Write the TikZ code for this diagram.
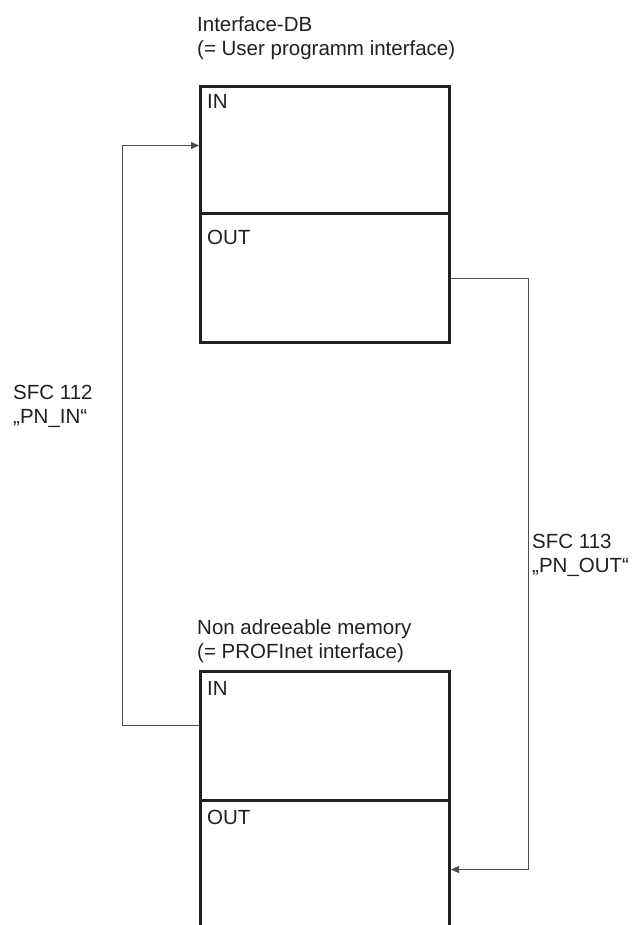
\documentclass[tikz,border=0pt]{standalone}
\usepackage{fontspec}
\setmainfont{Liberation Sans}
\usetikzlibrary{arrows.meta}
\definecolor{boxc}{HTML}{231F20}
\definecolor{linec}{HTML}{4D4D4D}
\begin{document}
\begin{tikzpicture}[x=1pt,y=-1pt,
  part/.style={draw=boxc,line width=3pt,anchor=north west,inner sep=0pt,minimum width=249pt},
  lbl/.style={anchor=base west,inner sep=0pt,font=\fontsize{20.5}{24}\selectfont,text=boxc,align=left},
  conn/.style={draw=linec,line width=1pt,-{Triangle[length=8pt,width=7pt]}}]
\useasboundingbox (0,0) rectangle (637,925);
\clip (0,0) rectangle (637,925);
% top block
\node[part,minimum height=127pt] (tin) at (199,85) {};
\node[part,minimum height=129pt] (tout) at (199,212) {};
% bottom block
\node[part,minimum height=129pt] (bin) at (199,670) {};
\node[part,minimum height=138pt] (bout) at (199,799) {};
% labels (base anchor = last line's baseline)
\node[lbl] (ttitle) at (197,56) {Interface-DB\\(= User programm interface)};
\node[lbl] (btitle) at (197,658) {Non adreeable memory\\(= PROFInet interface)};
\node[lbl] (tinl) at (207,109) {IN};
\node[lbl] (toutl) at (207,244) {OUT};
\node[lbl] (binl) at (207,695) {IN};
\node[lbl] (boutl) at (207,824) {OUT};
\node[lbl] (sfc112) at (13,423) {SFC 112\\„PN\_IN“};
\node[lbl] (sfc113) at (532,572) {SFC 113\\„PN\_OUT“};
% connectors
\draw[conn] ([yshift=10.5pt]bin.west) -- ++(-77,0) |- ([yshift=4.5pt]tin.west);
\draw[conn] (tout.east) -- ++(77,0) |- (bout.east);
\end{tikzpicture}
\end{document}
